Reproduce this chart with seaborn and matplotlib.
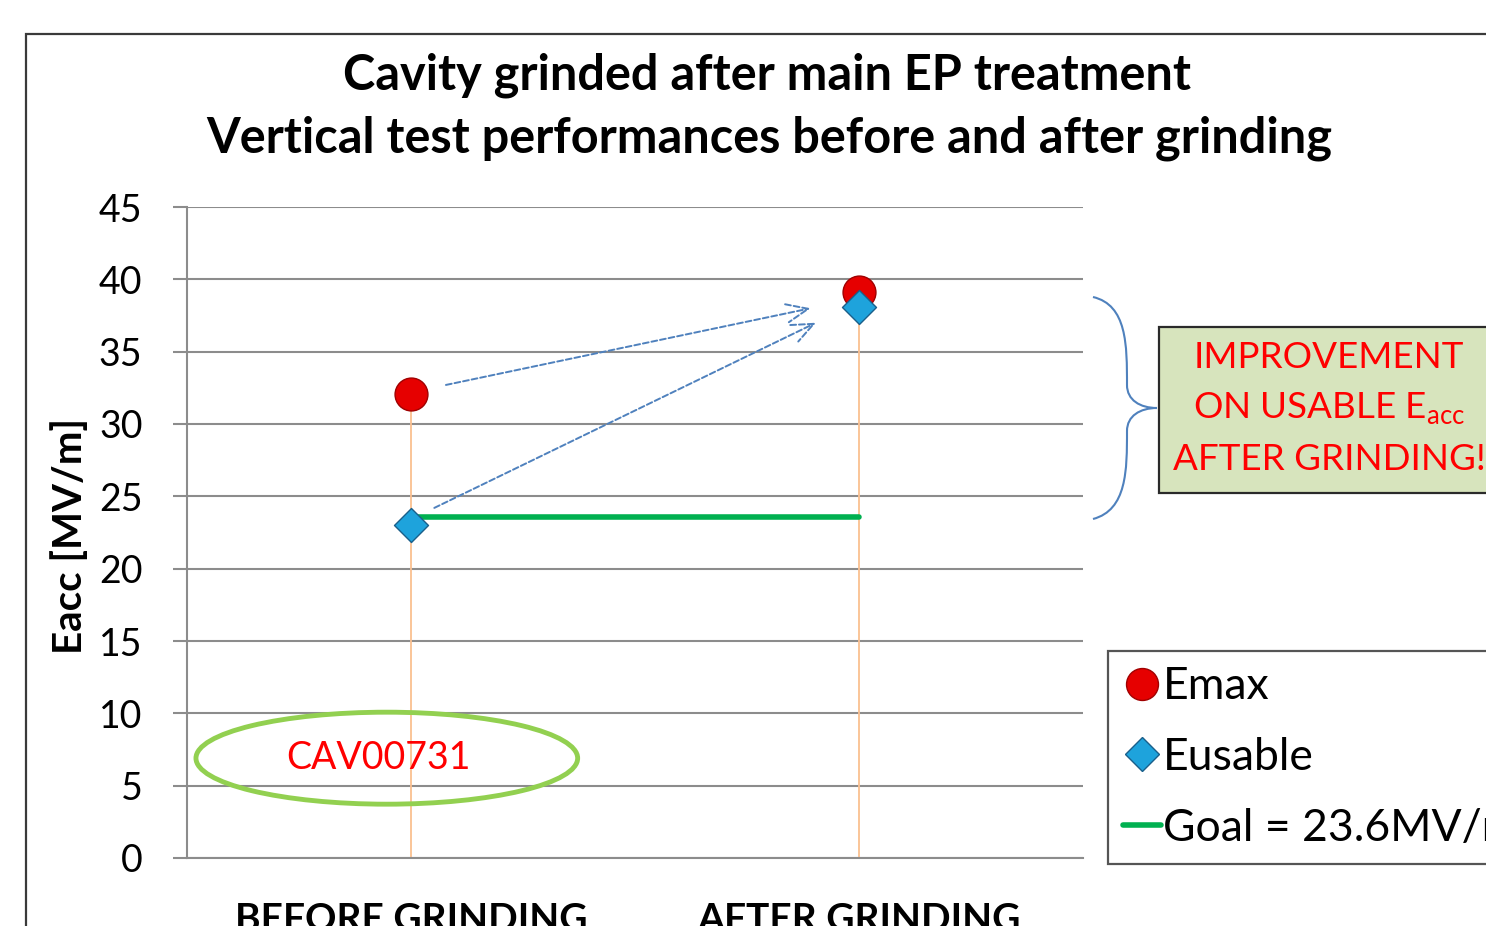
import matplotlib
matplotlib.use("Agg")
import matplotlib.pyplot as plt
import matplotlib.patches as mpatches
from matplotlib.path import Path
from matplotlib.lines import Line2D
import seaborn as sns
import pandas as pd

# data
categories = ["BEFORE GRINDING", "AFTER GRINDING"]
emax = [32.1, 39.1]
eusable = [23.0, 38.1]
goal = 23.6
cavity = "CAV00731"
yticks = list(range(0, 50, 5))

W, H = 1486, 926

sns.set_theme(style="white")
plt.rcParams["font.family"] = ["Lato", "DejaVu Sans"]
plt.rcParams["text.color"] = "black"
plt.rcParams["axes.labelcolor"] = "black"


def fx(px):
    return px / W


def fy(py):
    return 1 - py / H


df = pd.DataFrame({"stage": categories, "Emax": emax, "Eusable": eusable})
pos = list(range(len(categories)))

fig = plt.figure(figsize=(W / 100, H / 100), dpi=100)
ax = fig.add_axes([fx(187), fy(858), fx(1083) - fx(187), fy(207) - fy(858)])

# outer chart frame (cut off by the picture edges)
fig.patches.append(mpatches.Rectangle((fx(26), -0.2), 1.5, fy(34) + 0.2,
                                      transform=fig.transFigure, fill=False,
                                      edgecolor="#3a3a3a", lw=1.6))

ax.set_xlim(-0.5, 1.5)
ax.set_ylim(0, 45)
ax.set_yticks(yticks)
ax.grid(axis="y", color="#8c8c8c", lw=1.5)
ax.set_axisbelow(True)
for s in ["top", "right"]:
    ax.spines[s].set_visible(False)
for s in ["left", "bottom"]:
    ax.spines[s].set_color("#8c8c8c")
    ax.spines[s].set_linewidth(1.5)

# drop lines
ax.vlines(pos, 0, [max(a, b) for a, b in zip(emax, eusable)],
          color="#fac090", lw=1.3, zorder=2)

# goal line
sns.lineplot(x=pos, y=[goal] * len(pos), color="#00b050", lw=4, ax=ax,
             zorder=3, legend=False)

sns.scatterplot(data=df, x=pos, y="Emax", marker="o", s=560, color="#e60000",
                edgecolor="#a00000", linewidth=1.0, ax=ax, zorder=5)
sns.scatterplot(data=df, x=pos, y="Eusable", marker="D", s=300, color="#1ea3dc",
                edgecolor="#1a5f8a", linewidth=1.0, ax=ax, zorder=6)

# dashed arrows
arrow_kw = dict(arrowstyle="->,head_length=1.3,head_width=0.55", color="#4f81bd",
                lw=1.4, linestyle=(0, (3, 1.5)), shrinkA=0, shrinkB=0)
ax.annotate("", xy=(0.892, 38.0), xytext=(0.078, 32.7), arrowprops=arrow_kw)
ax.annotate("", xy=(0.904, 37.0), xytext=(0.052, 24.2), arrowprops=arrow_kw)

# cavity id in ellipse
ax.add_patch(mpatches.Ellipse((-0.054, 6.9), 0.852, 6.36, fill=False,
                              edgecolor="#92d050", lw=3.5, clip_on=False, zorder=4))
ax.text(-0.072, 6.9, cavity, color="#ff0000", fontsize=27, ha="center",
        va="center", zorder=5)

ax.set_xticks(pos)
ax.set_xticklabels(categories, fontsize=28, fontweight="bold")
ax.tick_params(axis="x", length=0, pad=32, labelcolor="black")
ax.tick_params(axis="y", length=10, width=1.5, color="#8c8c8c", direction="out",
               labelsize=27, pad=22, left=True, labelcolor="black")
ax.set_xlabel("")
ax.set_ylabel("Eacc [MV/m]", fontsize=29, fontweight="bold")
ax.yaxis.set_label_coords(-0.131, 0.495)
ax.yaxis.label.set_verticalalignment("center")

# title
fig.text(fx(767), fy(75), "Cavity grinded after main EP treatment",
         fontsize=35, fontweight="bold", ha="center", va="center")
fig.text(fx(769), fy(138), "Vertical test performances before and after grinding",
         fontsize=35, fontweight="bold", ha="center", va="center")

# curly brace
pts = [(1093, 297), (1127, 305), (1127, 345), (1127, 385),
       (1127, 400), (1140, 408), (1157, 408),
       (1140, 408), (1127, 416), (1127, 431),
       (1127, 470), (1127, 510), (1093, 519)]
codes = [Path.MOVETO] + [Path.CURVE4] * 12
brace = Path([(fx(x), fy(y)) for x, y in pts], codes)
fig.patches.append(mpatches.PathPatch(brace, transform=fig.transFigure,
                                      fill=False, edgecolor="#4f81bd", lw=1.5))

# annotation box
fig.patches.append(mpatches.Rectangle((fx(1159), fy(493)), 0.5, fy(327) - fy(493),
                                      transform=fig.transFigure, facecolor="#d7e4bd",
                                      edgecolor="#2a2a2a", lw=1.6))
for line, ypix in zip(["IMPROVEMENT", r"ON USABLE E$_{\mathregular{acc}}$",
                       "AFTER GRINDING!"], [358, 409, 459]):
    fig.text(fx(1329), fy(ypix), line, color="#ff0000", fontsize=26.5,
             ha="center", va="center")

# legend
handles = [
    Line2D([], [], marker="o", ls="", ms=23, color="#e60000",
           markeredgecolor="#a00000"),
    Line2D([], [], marker="D", ls="", ms=17, color="#1ea3dc",
           markeredgecolor="#1a5f8a"),
    Line2D([], [], color="#00b050", lw=4),
]
labels = ["Emax", "Eusable", f"Goal = {goal}MV/m"]
leg = fig.legend(handles, labels, loc="upper left",
                 bbox_to_anchor=(fx(1108), fy(651)), bbox_transform=fig.transFigure,
                 fontsize=32, frameon=True, fancybox=False, borderaxespad=0,
                 handlelength=0.85, handletextpad=0.05, labelspacing=0.67,
                 borderpad=0.34)
leg.get_frame().set_edgecolor("#2a2a2a")
leg.get_frame().set_linewidth(1.6)

fig.savefig("out.png", dpi=100)
